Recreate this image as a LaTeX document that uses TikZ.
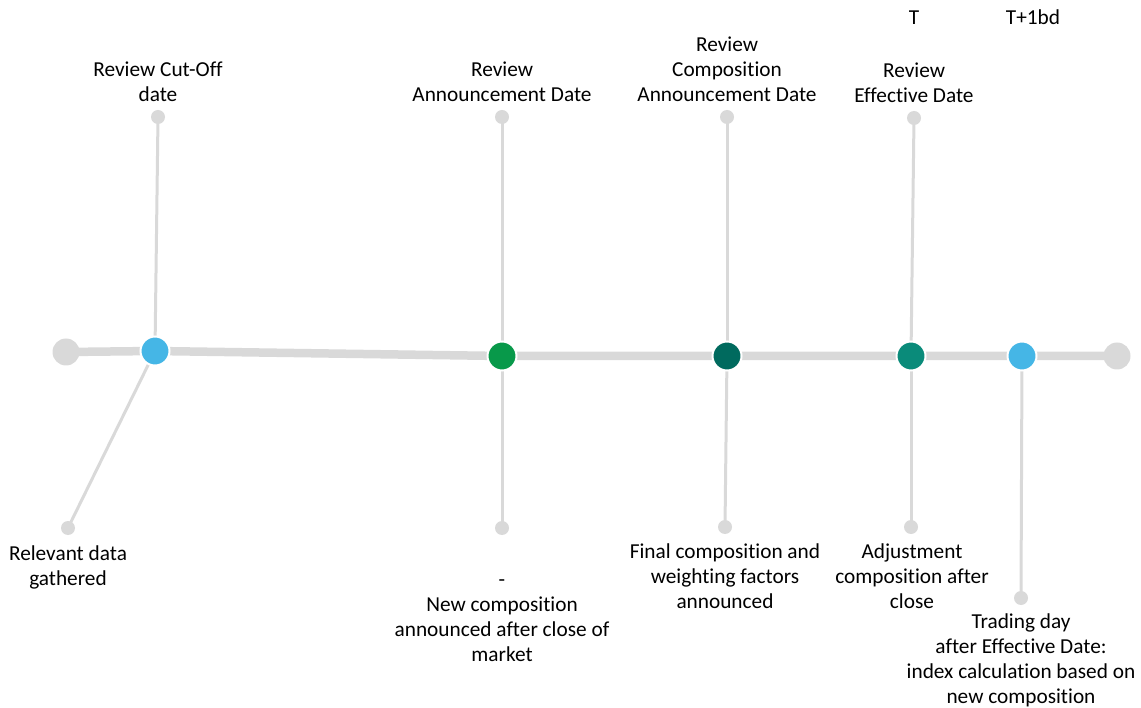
\documentclass[tikz,border=0pt]{standalone}
\usepackage{fontspec}
\setmainfont{Carlito}[Ligatures=NoCommon]
\usetikzlibrary{backgrounds}
\definecolor{lgrey}{HTML}{D9D9D9}
\definecolor{evblue}{HTML}{45B6E6}
\definecolor{evgreen}{HTML}{08994A}
\definecolor{evdark}{HTML}{006A5E}
\definecolor{evteal}{HTML}{0A8B7A}
\begin{document}
\begin{tikzpicture}[x=1pt,y=-1pt,
  mainline/.style={draw=lgrey, line width=8.5pt, line cap=round},
  stem/.style={draw=lgrey, line width=3pt},
  enddot/.style={circle, fill=lgrey, minimum size=27pt, inner sep=0pt},
  ev/.style={circle, draw=white, line width=2pt, minimum size=29pt, inner sep=0pt},
  sdot/.style={circle, fill=lgrey, minimum size=14pt, inner sep=0pt},
  lbl/.style={align=center, font=\fontsize{21.3}{25}\selectfont, inner sep=0pt, anchor=base}]
\useasboundingbox (0,0) rectangle (1141,708);
% end dots and events
\node[enddot] (e0) at (66,352) {};
\node[enddot] (e1) at (1117,356) {};
\node[ev, fill=evblue] (c1) at (155,351) {};
\node[ev, fill=evgreen] (c2) at (502,356) {};
\node[ev, fill=evdark] (c3) at (727,356) {};
\node[ev, fill=evteal] (c4) at (911,356) {};
\node[ev, fill=evblue] (c5) at (1022,356) {};
% small dots
\node[sdot] (t1) at (158,117) {};
\node[sdot] (b1) at (68,528) {};
\node[sdot] (t2) at (502,117) {};
\node[sdot] (b2) at (502,528) {};
\node[sdot] (t3) at (727,117) {};
\node[sdot] (b3) at (725,527) {};
\node[sdot] (t4) at (914,118) {};
\node[sdot] (b4) at (911,527) {};
\node[sdot] (b5) at (1021,598) {};
\begin{scope}[on background layer]
  \draw[mainline] (e0.center) -- (c1.center) -- (c2.center) -- (c3.center) -- (c4.center) -- (c5.center) -- (e1.center);
  \draw[stem] (c1.center) -- (t1.center);
  \draw[stem] (c1.center) -- (b1.center);
  \draw[stem] (c2.center) -- (t2.center);
  \draw[stem] (c2.center) -- (b2.center);
  \draw[stem] (c3.center) -- (t3.center);
  \draw[stem] (c3.center) -- (b3.center);
  \draw[stem] (c4.center) -- (t4.center);
  \draw[stem] (c4.center) -- (b4.center);
  \draw[stem] (c5.center) -- (b5.center);
\end{scope}
% labels (base anchor = baseline of last line)
\node[lbl] (l1) at (158,102) {Review Cut-Off\\date};
\node[lbl] (l1b) at (68,585) {Relevant data\\gathered};
\node[lbl] (l2) at (502,102) {Review\\Announcement Date};
\node[lbl] (l2b) at (502,661) {-\\New composition\\announced after close of\\market};
\node[lbl] (l3) at (727,102) {Review\\Composition\\Announcement Date};
\node[lbl] (l3b) at (725,608) {Final composition and\\weighting factors\\announced};
\node[lbl] (l4) at (914,103) {Review\\Effective Date};
\node[lbl] (l4b) at (912,608) {Adjustment\\composition after\\close};
\node[lbl] (lT) at (914,25) {T};
\node[lbl] (lT1) at (1033,25) {T+1bd};
\node[lbl] (l5b) at (1021,703) {Trading day\\after Effective Date:\\index calculation based on\\new composition};
\end{tikzpicture}
\end{document}
